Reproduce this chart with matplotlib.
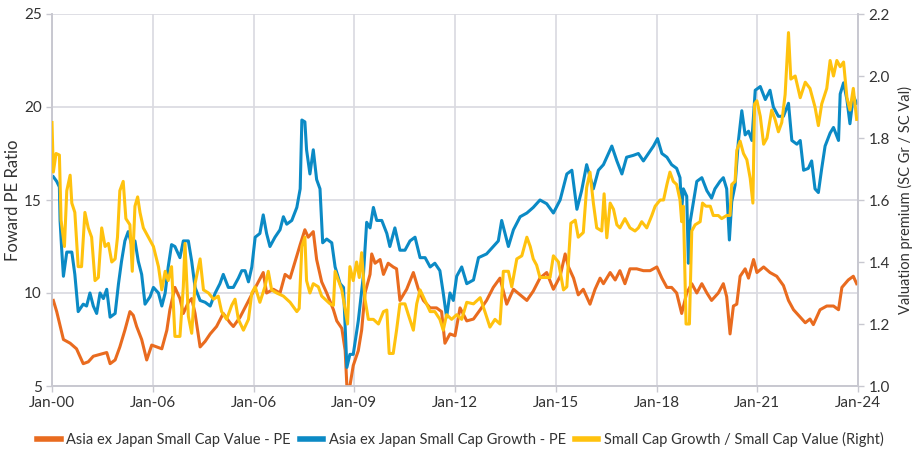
import matplotlib
matplotlib.use("Agg")
import matplotlib.pyplot as plt

# years since Jan-2000 and values

# Asia ex Japan Small Cap Value - PE (left axis)
value_t = [0.04, 0.14, 0.22, 0.34, 0.54, 0.73, 0.93, 1.08, 1.23, 1.43, 1.63, 1.73, 1.88,
           2.02, 2.17, 2.32, 2.42, 2.52, 2.67, 2.82, 2.97, 3.12, 3.27, 3.42, 3.51, 3.66,
           3.81, 3.91, 4.06, 4.16, 4.26, 4.41, 4.56, 4.71, 4.90, 5.10, 5.30, 5.40, 5.60,
           5.80, 6.00, 6.29, 6.39, 6.59, 6.79, 6.94, 7.09, 7.24, 7.39, 7.53, 7.63, 7.78,
           7.88, 8.03, 8.18, 8.38, 8.48, 8.63, 8.73, 8.78, 8.87, 8.97, 9.12, 9.22, 9.32,
           9.47, 9.52, 9.62, 9.77, 9.87, 10.01, 10.16, 10.26, 10.36, 10.56, 10.76, 10.91,
           11.06, 11.26, 11.45, 11.60, 11.70, 11.85, 12.0, 12.15, 12.35, 12.55, 12.75,
           12.94, 13.14, 13.34, 13.54, 13.74, 13.94, 14.14, 14.33, 14.53, 14.73, 14.93,
           15.13, 15.28, 15.38, 15.53, 15.67, 15.82, 16.02, 16.17, 16.32, 16.42, 16.62,
           16.77, 16.91, 17.06, 17.21, 17.41, 17.61, 17.81, 18.01, 18.16, 18.31, 18.45,
           18.60, 18.75, 18.90, 19.05, 19.20, 19.35, 19.50, 19.64, 19.84, 19.99, 20.09,
           20.19, 20.29, 20.39, 20.49, 20.64, 20.74, 20.89, 20.99, 21.19, 21.38, 21.58,
           21.78, 21.93, 22.08, 22.28, 22.43, 22.57, 22.67, 22.87, 23.07, 23.27, 23.42,
           23.52, 23.71, 23.86, 23.96]
value_pe = [9.6, 9.0, 8.4, 7.5, 7.3, 7.0, 6.2, 6.3, 6.6, 6.7, 6.8, 6.2, 6.4,
            7.1, 8.0, 9.0, 8.8, 8.2, 7.5, 6.4, 7.2, 7.1, 7.0, 8.0, 9.1, 10.3,
            9.7, 8.9, 9.5, 9.7, 8.9, 7.1, 7.4, 7.8, 8.2, 8.9, 8.4, 8.2, 8.7,
            9.4, 10.1, 11.1, 10.0, 10.2, 10.0, 11.0, 10.8, 11.7, 12.6, 13.4, 13.0, 13.3,
            11.8, 10.6, 10.0, 9.1, 8.5, 8.1, 6.9, 5.0, 5.0, 6.1, 6.9, 8.0, 10.0,
            11.0, 12.1, 11.6, 11.8, 11.0, 11.6, 11.4, 11.3, 9.6, 10.2, 11.1, 10.2,
            9.6, 9.2, 9.2, 9.0, 7.3, 7.8, 7.7, 9.2, 8.5, 8.6, 9.1,
            9.6, 10.3, 10.8, 9.4, 10.2, 9.9, 9.6, 10.1, 10.8, 11.1, 10.2,
            10.9, 12.1, 11.4, 10.8, 9.9, 10.2, 9.4, 10.2, 10.8, 10.5, 11.1,
            10.7, 11.2, 10.5, 11.3, 11.3, 11.2, 11.2, 11.4, 10.8, 10.3, 10.3,
            10.0, 8.9, 10.0, 10.5, 10.0, 10.5, 10.0, 9.6, 10.0, 10.5, 9.8,
            7.8, 9.3, 9.4, 10.9, 11.3, 10.8, 11.8, 11.1, 11.4, 11.1, 10.9,
            10.4, 9.6, 9.1, 8.7, 8.4, 8.6, 8.3, 9.1, 9.3, 9.3, 9.1,
            10.3, 10.7, 10.9, 10.5]

# Asia ex Japan Small Cap Growth - PE (left axis)
growth_t = [0.04, 0.14, 0.22, 0.24, 0.29, 0.34, 0.44, 0.59, 0.68, 0.78, 0.93, 1.03, 1.13,
            1.23, 1.33, 1.43, 1.53, 1.63, 1.73, 1.88, 1.98, 2.07, 2.17, 2.27, 2.37, 2.47,
            2.57, 2.67, 2.77, 2.92, 3.02, 3.17, 3.27, 3.37, 3.46, 3.56, 3.66, 3.81, 3.91,
            4.06, 4.16, 4.26, 4.41, 4.56, 4.71, 4.86, 5.00, 5.10, 5.25, 5.40, 5.55, 5.65,
            5.75, 5.85, 5.95, 6.05, 6.19, 6.29, 6.39, 6.49, 6.64, 6.79, 6.89, 6.99, 7.14,
            7.29, 7.39, 7.44, 7.53, 7.58, 7.68, 7.78, 7.88, 7.98, 8.06, 8.18, 8.33, 8.43,
            8.58, 8.68, 8.78, 8.87, 8.97, 9.12, 9.27, 9.37, 9.47, 9.57, 9.67, 9.82, 9.97,
            10.06, 10.21, 10.36, 10.51, 10.66, 10.81, 10.96, 11.11, 11.26, 11.40, 11.55,
            11.65, 11.75, 11.85, 11.95, 12.05, 12.20, 12.35, 12.55, 12.70, 12.94, 13.14,
            13.29, 13.39, 13.59, 13.74, 13.94, 14.14, 14.33, 14.53, 14.73, 14.93, 15.13,
            15.33, 15.48, 15.63, 15.77, 15.92, 16.12, 16.27, 16.42, 16.57, 16.67, 16.82,
            16.97, 17.11, 17.31, 17.46, 17.61, 17.76, 17.91, 18.03, 18.16, 18.31, 18.45,
            18.60, 18.70, 18.75, 18.80, 18.90, 18.95, 19.0, 19.1, 19.2, 19.35, 19.5,
            19.64, 19.74, 19.89, 19.99, 20.09, 20.17, 20.24, 20.34, 20.44, 20.54, 20.64,
            20.74, 20.84, 20.94, 21.09, 21.24, 21.38, 21.48, 21.63, 21.78, 21.93, 22.03,
            22.18, 22.28, 22.38, 22.52, 22.62, 22.72, 22.82, 22.92, 23.02, 23.17, 23.27,
            23.42, 23.47, 23.57, 23.67, 23.76, 23.86, 23.96]
growth_pe = [16.25, 16.0, 15.7, 13.9, 12.3, 10.9, 12.2, 12.2, 11.0, 9.0, 9.4, 9.3, 10.0,
             9.3, 8.9, 10.0, 9.7, 10.2, 8.7, 8.9, 10.5, 11.7, 12.8, 13.3, 12.6, 12.8,
             11.7, 11.0, 9.4, 9.8, 10.3, 10.0, 9.3, 10.0, 11.4, 12.6, 12.5, 11.9, 12.8,
             12.8, 11.7, 10.3, 9.6, 9.5, 9.3, 10.0, 10.5, 11.0, 10.3, 10.3, 10.8, 11.2,
             11.2, 10.6, 11.4, 13.0, 13.2, 14.2, 13.2, 12.5, 13.0, 13.4, 14.1, 13.7, 13.9,
             14.6, 15.6, 19.3, 19.2, 17.7, 16.4, 17.7, 16.1, 15.6, 12.7, 12.9, 12.7, 11.4,
             10.5, 10.3, 6.0, 6.7, 6.7, 8.5, 10.9, 13.8, 13.5, 14.6, 13.9, 13.9, 13.2,
             12.5, 13.5, 12.3, 12.3, 12.8, 13.0, 11.9, 11.9, 11.4, 11.6, 11.2,
             10.0, 8.7, 10.0, 9.6, 10.9, 11.4, 10.5, 10.7, 11.9, 12.1, 12.5,
             12.8, 13.9, 12.5, 13.4, 14.1, 14.3, 14.6, 15.0, 14.8, 14.3, 15.0,
             16.4, 16.6, 14.5, 15.5, 16.9, 15.6, 16.6, 16.9, 17.5, 17.9, 17.1,
             16.4, 17.3, 17.4, 17.5, 17.1, 17.5, 17.9, 18.3, 17.5, 17.3, 16.9,
             16.7, 16.2, 14.5, 15.6, 15.2, 11.6, 13.8, 14.9, 16.0, 16.2, 15.5,
             15.1, 15.6, 16.0, 16.2, 15.6, 12.85, 14.9, 15.8, 18.2, 19.8, 18.5,
             18.7, 18.2, 20.9, 21.1, 20.4, 20.9, 20.0, 19.5, 19.5, 20.2, 18.2,
             18.0, 18.2, 16.6, 16.7, 17.1, 15.6, 15.4, 16.7, 17.9, 18.6, 18.9,
             18.2, 20.7, 21.3, 20.4, 19.1, 20.6, 20.2]

# Small Cap Growth / Small Cap Value (right axis)
ratio_t = [0.0, 0.04, 0.12, 0.22, 0.27, 0.37, 0.44, 0.54, 0.59, 0.68, 0.78, 0.88, 0.98,
           1.08, 1.18, 1.28, 1.38, 1.48, 1.58, 1.68, 1.78, 1.88, 1.95, 2.02, 2.12, 2.20,
           2.32, 2.39, 2.47, 2.55, 2.62, 2.72, 2.87, 3.02, 3.17, 3.27, 3.37, 3.46, 3.56,
           3.66, 3.81, 3.91, 3.96, 4.06, 4.16, 4.26, 4.41, 4.51, 4.66, 4.81, 4.95, 5.05,
           5.20, 5.35, 5.45, 5.55, 5.70, 5.85, 5.95, 6.05, 6.19, 6.34, 6.44, 6.54, 6.69,
           6.89, 7.09, 7.29, 7.36, 7.44, 7.53, 7.58, 7.68, 7.78, 7.93, 8.03, 8.13, 8.28,
           8.38, 8.43, 8.53, 8.63, 8.73, 8.80, 8.87, 8.97, 9.07, 9.15, 9.22, 9.32, 9.42,
           9.57, 9.72, 9.87, 9.97, 10.04, 10.16, 10.26, 10.36, 10.51, 10.61, 10.76, 10.86,
           10.96, 11.11, 11.26, 11.40, 11.55, 11.65, 11.75, 11.90, 12.05, 12.20, 12.35,
           12.55, 12.75, 12.89, 13.04, 13.19, 13.34, 13.44, 13.59, 13.69, 13.84, 13.99,
           14.14, 14.24, 14.33, 14.43, 14.53, 14.68, 14.83, 14.93, 15.08, 15.23, 15.33,
           15.45, 15.58, 15.67, 15.82, 15.92, 16.02, 16.12, 16.22, 16.37, 16.44, 16.52,
           16.62, 16.72, 16.82, 16.91, 17.06, 17.21, 17.36, 17.46, 17.56, 17.71, 17.86,
           17.96, 18.11, 18.21, 18.31, 18.40, 18.50, 18.60, 18.70, 18.75, 18.80, 18.88,
           18.98, 19.05, 19.15, 19.30, 19.37, 19.47, 19.60, 19.69, 19.84, 19.94, 20.09,
           20.19, 20.24, 20.34, 20.39, 20.49, 20.59, 20.69, 20.79, 20.87, 20.92, 20.99,
           21.09, 21.19, 21.29, 21.43, 21.53, 21.63, 21.73, 21.83, 21.93, 22.0, 22.13,
           22.28, 22.43, 22.57, 22.72, 22.82, 22.92, 23.07, 23.17, 23.27, 23.37, 23.47,
           23.57, 23.67, 23.76, 23.86, 23.96]
ratio = [1.85, 1.69, 1.75, 1.745, 1.535, 1.45, 1.63, 1.68, 1.59, 1.56, 1.385, 1.385, 1.56,
         1.51, 1.48, 1.34, 1.35, 1.51, 1.45, 1.46, 1.40, 1.41, 1.48, 1.63, 1.66, 1.54,
         1.52, 1.37, 1.58, 1.61, 1.56, 1.51, 1.48, 1.45, 1.385, 1.31, 1.37, 1.34, 1.385,
         1.16, 1.16, 1.32, 1.46, 1.225, 1.17, 1.33, 1.41, 1.31, 1.30, 1.28, 1.29, 1.24,
         1.215, 1.26, 1.28, 1.215, 1.18, 1.215, 1.30, 1.32, 1.27, 1.32, 1.37, 1.31, 1.30,
         1.29, 1.27, 1.24, 1.25, 1.45, 1.48, 1.34, 1.30, 1.33, 1.32, 1.29, 1.28, 1.265,
         1.26, 1.37, 1.34, 1.31, 1.245, 1.20, 1.385, 1.34, 1.40, 1.35, 1.43, 1.28, 1.215,
         1.215, 1.20, 1.24, 1.245, 1.105, 1.105, 1.18, 1.265, 1.265, 1.23, 1.18, 1.265,
         1.31, 1.275, 1.24, 1.24, 1.215, 1.18, 1.23, 1.215, 1.23, 1.215, 1.27,
         1.265, 1.285, 1.24, 1.19, 1.215, 1.20, 1.37, 1.37, 1.32, 1.41, 1.42,
         1.48, 1.45, 1.41, 1.39, 1.35, 1.35, 1.35, 1.42, 1.40, 1.31, 1.32,
         1.525, 1.535, 1.48, 1.495, 1.64, 1.69, 1.59, 1.51, 1.50, 1.62, 1.478,
         1.59, 1.57, 1.52, 1.51, 1.54, 1.51, 1.50, 1.51, 1.53, 1.51, 1.55,
         1.58, 1.60, 1.60, 1.65, 1.69, 1.66, 1.65, 1.60, 1.53, 1.58, 1.20,
         1.20, 1.50, 1.52, 1.53, 1.59, 1.58, 1.58, 1.55, 1.55, 1.54, 1.55,
         1.55, 1.65, 1.66, 1.76, 1.79, 1.75, 1.73, 1.67, 1.59, 1.91, 1.92,
         1.87, 1.78, 1.80, 1.89, 1.86, 1.82, 1.85, 1.94, 2.14, 1.99, 2.0,
         1.93, 1.98, 1.96, 1.90, 1.84, 1.91, 1.96, 2.05, 2.0, 2.05, 2.03,
         2.045, 1.93, 1.89, 1.96, 1.86]

tick_pos = [0, 3, 6, 9, 12, 15, 18, 21, 24]
tick_labels = ["Jan-00", "Jan-06", "Jan-06", "Jan-09", "Jan-12", "Jan-15", "Jan-18", "Jan-21", "Jan-24"]

ORANGE = "#E96B1F"
BLUE = "#0B8AC5"
YELLOW = "#FFC20E"
GRID = "#D9D9E0"
TEXT = "#333333"

plt.rcParams["font.family"] = ["Lato", "DejaVu Sans"]

fig = plt.figure(figsize=(9.21, 4.51), dpi=100)
ax = fig.add_axes([52 / 921, 1 - 386 / 451, (858 - 52) / 921, (386 - 14) / 451])
ax2 = ax.twinx()

l1, = ax.plot(value_t, value_pe, color=ORANGE, lw=2.2, zorder=3)
l2, = ax.plot(growth_t, growth_pe, color=BLUE, lw=2.2, zorder=4)
l3, = ax2.plot(ratio_t, ratio, color=YELLOW, lw=2.2, zorder=5)

# yellow line should sit above the others
ax.set_zorder(1)
ax2.set_zorder(2)
ax.patch.set_visible(True)
ax2.patch.set_visible(False)

ax.set_xlim(0, 24)
ax.set_ylim(5, 25)
ax2.set_ylim(1.0, 2.2)
ax.set_yticks([5, 10, 15, 20, 25])
ax2.set_yticks([1.0, 1.2, 1.4, 1.6, 1.8, 2.0, 2.2])
ax2.set_yticklabels([f"{v:.1f}" for v in [1.0, 1.2, 1.4, 1.6, 1.8, 2.0, 2.2]])
ax.set_xticks(tick_pos)
ax.set_xticklabels(tick_labels)

ax.grid(True, color=GRID, lw=1.2)
ax.set_axisbelow(True)

for a in (ax, ax2):
    a.spines["top"].set_visible(False)
    for s in ("left", "right", "bottom"):
        a.spines[s].set_color("#C8C8D0")
        a.spines[s].set_linewidth(1.2)
    a.tick_params(colors="#C8C8D0", labelcolor=TEXT, labelsize=11, length=4, width=1)

ax.set_ylabel("Foward PE Ratio", fontsize=12, color=TEXT, labelpad=2)
ax2.set_ylabel("Valuation premium (SC Gr / SC Val)", fontsize=10.5, color=TEXT, labelpad=6)

fig.legend([l1, l2, l3],
           ["Asia ex Japan Small Cap Value - PE",
            "Asia ex Japan Small Cap Growth - PE",
            "Small Cap Growth / Small Cap Value (Right)"],
           loc="center", bbox_to_anchor=(0.5, 0.025), ncol=3, frameon=False,
           fontsize=10.5, handlelength=1.6, handletextpad=0.4, columnspacing=0.6,
           labelcolor=TEXT)
for h in fig.legends[0].get_lines():
    h.set_linewidth(4)

fig.savefig("out.png", dpi=100)
